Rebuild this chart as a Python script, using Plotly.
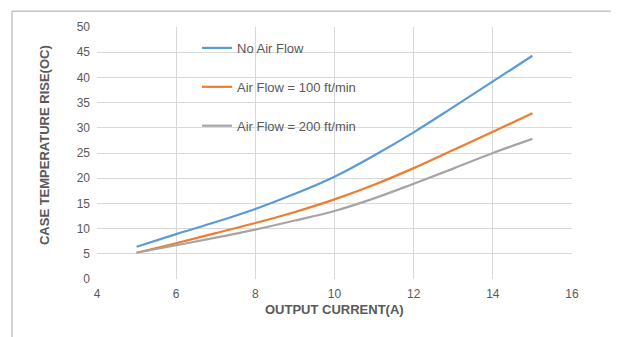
import plotly.graph_objects as go

current = [5, 6, 7, 8, 9, 10, 11, 12, 13, 14, 15]
no_air = [6.4, 8.9, 11.3, 13.9, 16.9, 20.3, 24.5, 29.1, 34.1, 39.2, 44.3]
air_100 = [5.2, 7.1, 9.1, 11.1, 13.3, 15.8, 18.7, 22.0, 25.6, 29.2, 32.9]
air_200 = [5.2, 6.7, 8.2, 9.8, 11.6, 13.5, 16.0, 18.9, 21.9, 25.0, 27.8]

series = [
    ("No Air Flow", no_air, "#5B9BD5"),
    ("Air Flow = 100 ft/min", air_100, "#ED7D31"),
    ("Air Flow = 200 ft/min", air_200, "#A5A5A5"),
]

FONT = "Liberation Sans, Arial, sans-serif"
GREY_TXT = "#595959"

# page body has an 8px margin, so the figure is drawn 8px in from the corner
W, H = 611, 329
L, T = 89, 17
PW, PH = 475, 254


def px_x(p):
    return (p - 8 - L) / PW


def px_y(p):
    return 1 - (p - 8 - T) / PH


fig = go.Figure()
for i, (name, ys, col) in enumerate(series):
    fig.add_trace(go.Scatter(
        x=current, y=ys, name=name, mode="lines",
        line=dict(color=col, width=2.2, shape="spline", smoothing=1.0),
        legendgroup=f"g{i}",
    ))

fig.update_layout(
    width=W, height=H,
    paper_bgcolor="white", plot_bgcolor="white",
    margin=dict(l=L, r=W - L - PW, t=T, b=H - T - PH),
    font=dict(family=FONT, size=12, color=GREY_TXT),
    showlegend=True,
    legend=dict(
        x=px_x(197), y=px_y(31), xanchor="left", yanchor="top",
        bgcolor="rgba(0,0,0,0)", traceorder="grouped",
        tracegroupgap=19, itemwidth=30,
        font=dict(size=13, color=GREY_TXT),
    ),
    xaxis=dict(
        range=[4, 16], dtick=2, showgrid=True, gridcolor="#D9D9D9",
        zeroline=False, showline=False, ticks="",
        ticklabelstandoff=6,
        tickfont=dict(size=12, color=GREY_TXT),
    ),
    yaxis=dict(
        range=[0, 50], dtick=5, showgrid=True, gridcolor="#D9D9D9",
        zeroline=False, showline=False, ticks="",
        ticklabelstandoff=6,
        tickfont=dict(size=12, color=GREY_TXT),
    ),
    shapes=[
        # white box behind legend, hiding the grid
        dict(type="rect", xref="paper", yref="paper",
             x0=px_x(165), x1=px_x(387), y0=px_y(147), y1=px_y(32),
             fillcolor="white", line=dict(width=0), layer="between"),
        # outer chart border
        dict(type="rect", xref="paper", yref="paper",
             x0=px_x(12), x1=px_x(617), y0=px_y(360), y1=px_y(9),
             line=dict(color="#A6A6A6", width=1), fillcolor="rgba(0,0,0,0)"),
    ],
    annotations=[
        dict(text="<b>OUTPUT CURRENT(A)</b>", xref="paper", yref="paper",
             x=0.5, y=px_y(310), xanchor="center", yanchor="middle",
             showarrow=False, font=dict(size=13, color=GREY_TXT)),
        dict(text="<b>CASE TEMPERATURE RISE(OC)</b>", xref="paper", yref="paper",
             x=px_x(44), y=px_y(144), xanchor="center", yanchor="middle",
             showarrow=False, textangle=-90,
             font=dict(size=13, color=GREY_TXT)),
    ],
)

fig.write_html("out.html")
